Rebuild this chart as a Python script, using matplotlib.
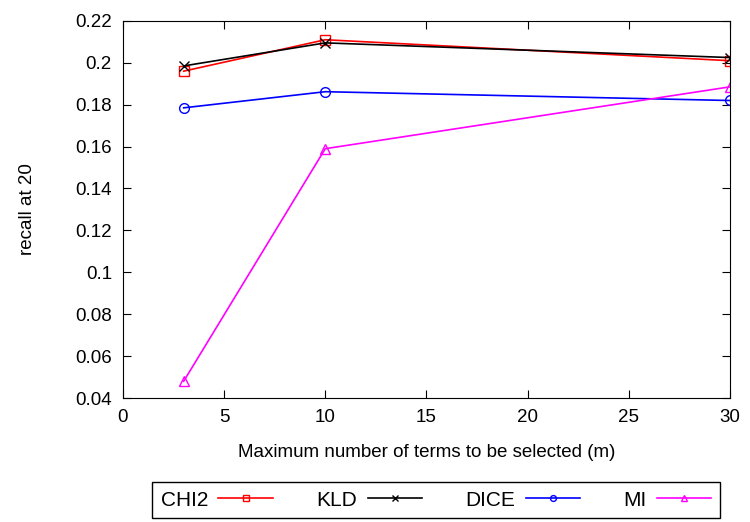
import matplotlib
matplotlib.use('Agg')
import matplotlib.pyplot as plt

plt.rcParams['font.family'] = ['Liberation Sans', 'DejaVu Sans']

# data
m = [3, 10, 30]
chi2 = [0.196, 0.211, 0.201]
kld = [0.1985, 0.2095, 0.2025]
dice = [0.1785, 0.1862, 0.182]
mi = [0.048, 0.159, 0.1885]

fig = plt.figure(figsize=(7.5, 5.22), dpi=100)
ax = fig.add_axes([0.164, 0.2375, 0.809, 0.7225])

ax.plot(m, chi2, '-s', color='red', mfc='none', ms=7, lw=1.2, label='CHI2')
ax.plot(m, kld, '-x', color='black', ms=7, lw=1.2, label='KLD')
ax.plot(m, dice, '-o', color='blue', mfc='none', ms=7, lw=1.2, label='DICE')
ax.plot(m, mi, '-^', color='magenta', mfc='none', ms=7, lw=1.2, label='MI')

ax.set_xlim(0, 30)
ax.set_ylim(0.04, 0.22)
ax.set_xticks([0, 5, 10, 15, 20, 25, 30])
ax.set_yticks([0.04, 0.06, 0.08, 0.1, 0.12, 0.14, 0.16, 0.18, 0.2, 0.22])
ax.set_yticklabels(['0.04', '0.06', '0.08', '0.1', '0.12', '0.14', '0.16',
                    '0.18', '0.2', '0.22'])
ax.tick_params(direction='in', top=True, right=True, labelsize=13.5, length=6, pad=8)
ax.set_xlabel('Maximum number of terms to be selected (m)', fontsize=13.5, labelpad=13)
ax.set_ylabel('recall at 20', fontsize=13.5, labelpad=28)

ax.legend(loc='upper center', bbox_to_anchor=(0.516, -0.222), ncol=4,
          markerfirst=False, fancybox=False, edgecolor='black', fontsize=15,
          handlelength=2.6, handletextpad=0.5, columnspacing=2.1, borderpad=0.42,
          borderaxespad=0, markerscale=0.6, framealpha=1)

fig.savefig('out.png', dpi=100)
